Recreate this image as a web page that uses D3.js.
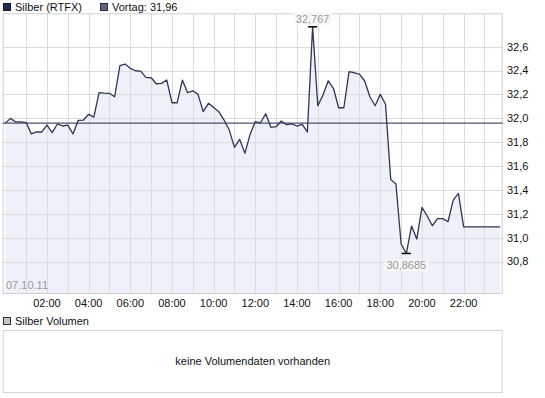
<!DOCTYPE html>
<html><head><meta charset="utf-8">
<script src="https://cdn.jsdelivr.net/npm/d3@7"></script>
<style>
html,body{margin:0;padding:0;background:#fff;}
svg{display:block;font-family:"Liberation Sans",Arial,sans-serif;}
</style></head>
<body><div id="chart"></div>
<script>
// ---- data ----
const seriesName = "Silber (RTFX)";
const prevClose = 31.96;
const prevLabel = "Vortag: 31,96";
const volumeName = "Silber Volumen";
const volumeMsg = "keine Volumendaten vorhanden";
const dateLabel = "07.10.11";
// 15-minute slots, 00:00 .. 23:45
const times = d3.range(96).map(i => String(Math.floor(i / 4)).padStart(2, "0") + ":" + String((i % 4) * 15).padStart(2, "0"));
const prices = [
  31.96, 32.00, 31.97, 31.97, 31.965, 31.87, 31.886, 31.886, 31.944, 31.88,
  31.953, 31.936, 31.944, 31.869, 31.984, 31.986, 32.034, 32.011, 32.215, 32.212,
  32.21, 32.181, 32.441, 32.455, 32.419, 32.399, 32.396, 32.344, 32.34, 32.29,
  32.293, 32.321, 32.131, 32.131, 32.321, 32.215, 32.231, 32.201, 32.056, 32.126,
  32.092, 32.056, 31.986, 31.902, 31.757, 31.824, 31.707, 31.866, 31.972, 31.963,
  32.039, 31.925, 31.93, 31.978, 31.947, 31.953, 31.936, 31.95, 31.886, 32.767,
  32.106, 32.195, 32.315, 32.252, 32.089, 32.089, 32.391, 32.382, 32.371, 32.313,
  32.181, 32.106, 32.201, 32.118, 31.489, 31.45, 30.948, 30.8685, 31.098, 30.989,
  31.255, 31.182, 31.101, 31.16, 31.16, 31.134, 31.316, 31.372, 31.092, 31.092,
  31.092, 31.092, 31.092, 31.092, 31.092, 31.092
];
const yTicks = [30.8, 31.0, 31.2, 31.4, 31.6, 31.8, 32.0, 32.2, 32.4, 32.6];
const xTickLabels = ["02:00","04:00","06:00","08:00","10:00","12:00","14:00","16:00","18:00","20:00","22:00"];

// ---- layout ----
const W = 545, H = 398;
const P = {left: 2.7, right: 502.7, top: 13.3, bottom: 294};
const fmt = v => d3.format(".1f")(v).replace(".", ",");

const svg = d3.select("#chart").append("svg").attr("width", W).attr("height", H);
svg.append("rect").attr("width", W).attr("height", H).attr("fill", "#fff");

const x = d3.scaleBand().domain(times).range([P.left, P.right]);
const xc = t => x(t) + x.bandwidth() / 2;
const y = d3.scaleLinear().domain([30.529, 32.88]).range([P.bottom, P.top]);

const data = times.map((t, i) => ({t, v: prices[i]}));

// plot background
svg.append("rect").attr("x", P.left).attr("y", P.top)
  .attr("width", P.right - P.left).attr("height", P.bottom - P.top).attr("fill", "#fff");

// area fill
svg.append("path").datum(data)
  .attr("fill", "#eef1fa")
  .attr("d", d3.area().x(d => xc(d.t)).y0(P.bottom).y1(d => y(d.v)));

// grid
const gridColor = "#dcdcdc";
const vGrid = times.filter((t, i) => i > 0 && i % 4 === 0);
svg.append("g").selectAll("line").data(vGrid).join("line")
  .attr("x1", d => Math.round(xc(d)) + 0.5).attr("x2", d => Math.round(xc(d)) + 0.5)
  .attr("y1", P.top).attr("y2", P.bottom)
  .attr("stroke", gridColor).attr("stroke-width", 1);
svg.append("g").selectAll("line").data(yTicks).join("line")
  .attr("x1", P.left).attr("x2", P.right)
  .attr("y1", d => Math.round(y(d)) + 0.5).attr("y2", d => Math.round(y(d)) + 0.5)
  .attr("stroke", gridColor).attr("stroke-width", 1);

// border
svg.append("rect").attr("x", P.left + 0.5).attr("y", P.top + 0.5)
  .attr("width", P.right - P.left - 1).attr("height", P.bottom - P.top - 1)
  .attr("fill", "none").attr("stroke", "#cfcfcf");

// previous close line
svg.append("line").attr("x1", P.left).attr("x2", P.right)
  .attr("y1", y(prevClose)).attr("y2", y(prevClose))
  .attr("stroke", "#4a5370").attr("stroke-width", 1.2);

// price line
svg.append("path").datum(data)
  .attr("fill", "none").attr("stroke", "#2c3656").attr("stroke-width", 1.3)
  .attr("stroke-linejoin", "round")
  .attr("d", d3.line().x(d => xc(d.t)).y(d => y(d.v)));

// y axis labels
svg.append("g").selectAll("text").data(yTicks).join("text")
  .attr("x", 507).attr("y", d => y(d)).attr("dy", "0.35em")
  .attr("font-size", 11).attr("fill", "#111").text(fmt);

// x axis labels
svg.append("g").selectAll("text").data(xTickLabels).join("text")
  .attr("x", d => xc(d)).attr("y", 307).attr("text-anchor", "middle")
  .attr("font-size", 11).attr("fill", "#111").text(d => d);

// date label
svg.append("text").attr("x", 6).attr("y", 289).attr("font-size", 11)
  .attr("fill", "#999").text(dateLabel);

// max / min markers
const maxD = data.reduce((a, b) => b.v > a.v ? b : a);
const minD = data.reduce((a, b) => b.v < a.v ? b : a);
function marker(d, above) {
  const cx = xc(d.t), cy = y(d.v);
  svg.append("line").attr("x1", cx - 4.5).attr("x2", cx + 4.5).attr("y1", cy).attr("y2", cy)
    .attr("stroke", "#000").attr("stroke-width", 1.5);
  const label = String(d.v).replace(".", ",");
  const ty = above ? cy - 8 : cy + 12;
  const g = svg.append("g");
  const bg = g.append("rect").attr("fill", "#f7f7f7").attr("opacity", 0.9);
  const tx = g.append("text").attr("x", cx).attr("y", ty).attr("dy", "0.35em")
    .attr("text-anchor", "middle").attr("font-size", 11).attr("fill", "#999").text(label);
  const bb = tx.node().getBBox();
  bg.attr("x", bb.x - 2).attr("y", bb.y).attr("width", bb.width + 4).attr("height", bb.height);
}
marker(maxD, true);
marker(minD, false);

// legend top
svg.append("rect").attr("x", 3.5).attr("y", 3.5).attr("width", 7).attr("height", 7)
  .attr("fill", "#1f2d54").attr("stroke", "#111a33");
svg.append("text").attr("x", 15).attr("y", 11).attr("font-size", 11).attr("fill", "#111").text(seriesName);
svg.append("rect").attr("x", 100.5).attr("y", 3.5).attr("width", 7).attr("height", 7)
  .attr("fill", "#5d6582").attr("stroke", "#2a2f44");
svg.append("text").attr("x", 112).attr("y", 11).attr("font-size", 11).attr("fill", "#111").text(prevLabel);

// volume panel
svg.append("rect").attr("x", 3.5).attr("y", 317.5).attr("width", 7).attr("height", 7)
  .attr("fill", "#c4c4c4").attr("stroke", "#333");
svg.append("text").attr("x", 15).attr("y", 325).attr("font-size", 11).attr("fill", "#111").text(volumeName);
svg.append("rect").attr("x", P.left + 0.5).attr("y", 330.5)
  .attr("width", P.right - P.left - 1).attr("height", 62)
  .attr("fill", "#fff").attr("stroke", "#d6d6d6");
svg.append("text").attr("x", (P.left + P.right) / 2).attr("y", 361.5).attr("dy", "0.35em")
  .attr("text-anchor", "middle").attr("font-size", 11).attr("fill", "#111").text(volumeMsg);
</script></body></html>
